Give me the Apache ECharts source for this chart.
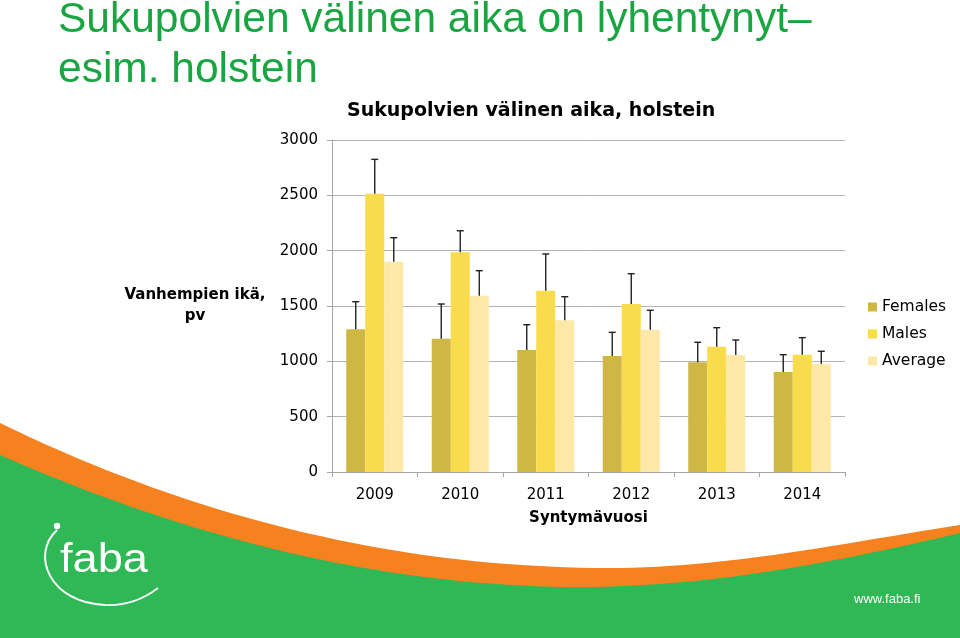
<!DOCTYPE html>
<html>
<head>
<meta charset="utf-8">
<script src="https://cdn.jsdelivr.net/npm/echarts@6/dist/echarts.min.js"></script>
<style>
  html, body { margin: 0; padding: 0; background: #ffffff; }
  #chart { width: 960px; height: 638px; }
</style>
</head>
<body>
<div id="chart"></div>
<script>
// ---- data ----
var years = ['2009', '2010', '2011', '2012', '2013', '2014'];
var seriesNames = ['Females', 'Males', 'Average'];
var females = [1290, 1205, 1102, 1048, 991, 904];
var femalesUpper = [1539, 1518, 1331, 1262, 1172, 1060];
var males = [2515, 1985, 1638, 1518, 1132, 1060];
var malesUpper = [2825, 2180, 1970, 1792, 1304, 1214];
var average = [1900, 1593, 1371, 1286, 1057, 976];
var averageUpper = [2117, 1819, 1584, 1461, 1193, 1091];
var yTicks = [0, 500, 1000, 1500, 2000, 2500, 3000];

var colors = ['#cfb746', '#f9dc4b', '#fde8a7'];
var values = [females, males, average];
var uppers = [femalesUpper, malesUpper, averageUpper];
var CAT_GAP = 0.333;
var FONT = '"DejaVu Sans", Verdana, sans-serif';

var chart = echarts.init(document.getElementById('chart'), null, { renderer: 'canvas' });

function errorRenderer(seriesIdx) {
  return function (params, api) {
    var cat = api.value(0);
    var base = api.coord([cat, api.value(1)]);
    var top = api.coord([cat, api.value(2)]);
    var band = api.size([1, 0])[0];
    var bw = band * (1 - CAT_GAP) / 3;
    var cx = base[0] - bw * 1.5 + bw * (seriesIdx + 0.5);
    var half = 3.5;
    return {
      type: 'group',
      children: [
        { type: 'line', shape: { x1: cx, y1: base[1], x2: cx, y2: top[1] },
          style: { stroke: '#222', lineWidth: 1.4 } },
        { type: 'line', shape: { x1: cx - half, y1: top[1], x2: cx + half, y2: top[1] },
          style: { stroke: '#222', lineWidth: 1.4 } }
      ]
    };
  };
}

var series = [];
seriesNames.forEach(function (name, i) {
  series.push({
    name: name,
    type: 'bar',
    data: values[i],
    barGap: '0%',
    barCategoryGap: (CAT_GAP * 100) + '%',
    itemStyle: { color: colors[i] },
    z: 2
  });
});
seriesNames.forEach(function (name, i) {
  series.push({
    name: name + ' error',
    type: 'custom',
    renderItem: errorRenderer(i),
    data: years.map(function (y, k) { return [k, values[i][k], uppers[i][k]]; }),
    encode: { x: 0, y: [1, 2] },
    z: 3,
    silent: true
  });
});

// decorative background swooshes (sampled cubic curves)
function cubicPts(p0, p1, p2, p3, n) {
  var pts = [];
  for (var k = 0; k <= n; k++) {
    var t = k / n, u = 1 - t;
    pts.push([
      u * u * u * p0[0] + 3 * u * u * t * p1[0] + 3 * u * t * t * p2[0] + t * t * t * p3[0],
      u * u * u * p0[1] + 3 * u * u * t * p1[1] + 3 * u * t * t * p2[1] + t * t * t * p3[1]
    ]);
  }
  return pts;
}
var orangePts = cubicPts([0, 423], [203, 522], [407, 568], [610, 568], 40)
  .concat(cubicPts([610, 568], [727, 568], [843, 543], [960, 525], 30).slice(1))
  .concat([[960, 638], [0, 638]]);
var greenPts = cubicPts([0, 455], [193, 540], [387, 587], [580, 587], 40)
  .concat(cubicPts([580, 587], [707, 587], [833, 563], [960, 533], 30).slice(1))
  .concat([[960, 638], [0, 638]]);

var option = {
  backgroundColor: '#ffffff',
  animation: false,
  title: [
    {
      text: 'Sukupolvien välinen aika on lyhentynyt–\nesim. holstein',
      left: 58, top: -5, padding: 0,
      textStyle: { color: '#19a541', fontSize: 42.5, fontWeight: 'normal',
        fontFamily: '"Liberation Sans", Arial, sans-serif', lineHeight: 50 }
    },
    {
      text: 'Sukupolvien välinen aika, holstein',
      left: 347, top: 102, padding: 0,
      textStyle: { color: '#000', fontSize: 19, fontWeight: 'bold', fontFamily: FONT }
    }
  ],
  legend: {
    orient: 'vertical',
    left: 868, top: 299, padding: 0,
    itemWidth: 9, itemHeight: 9, itemGap: 11,
    icon: 'rect',
    data: seriesNames,
    textStyle: { color: '#000', fontSize: 15.5, fontFamily: FONT }
  },
  grid: { left: 332, right: 115, top: 140, bottom: 166, containLabel: false },
  xAxis: {
    type: 'category',
    data: years,
    name: 'Syntymävuosi',
    nameLocation: 'middle',
    nameGap: 46,
    nameTextStyle: { color: '#000', fontSize: 15, fontWeight: 'bold', fontFamily: FONT, verticalAlign: 'middle' },
    axisLine: { lineStyle: { color: '#a6a6a6', width: 1 } },
    axisTick: { show: true, length: 5, lineStyle: { color: '#a6a6a6' } },
    axisLabel: { color: '#000', fontSize: 15, fontFamily: FONT, margin: 16 }
  },
  yAxis: {
    type: 'value',
    min: yTicks[0], max: yTicks[yTicks.length - 1], interval: 500,
    name: 'Vanhempien ikä,\npv',
    nameLocation: 'middle',
    nameRotate: 0,
    nameGap: 137,
    nameTextStyle: { color: '#000', fontSize: 15, fontWeight: 'bold', fontFamily: FONT,
      align: 'center', verticalAlign: 'middle', lineHeight: 21 },
    axisLine: { show: true, lineStyle: { color: '#a6a6a6', width: 1 } },
    axisTick: { show: true, length: 5, lineStyle: { color: '#a6a6a6' } },
    axisLabel: { color: '#000', fontSize: 15, fontFamily: FONT, margin: 14,
      formatter: function (v) { return String(v); } },
    splitLine: { lineStyle: { color: '#b4b4b4', width: 1 } }
  },
  graphic: [
    { type: 'polygon', z: -10, silent: true, shape: { points: orangePts }, style: { fill: '#f5821f' } },
    { type: 'polygon', z: -9, silent: true, shape: { points: greenPts }, style: { fill: '#2fb855' } },
    { type: 'bezierCurve', z: -8, silent: true,
      shape: { x1: 57, y1: 530, cpx1: 30, cpy1: 555, cpx2: 50, cpy2: 603, x2: 105, y2: 605 },
      style: { fill: null, stroke: '#ffffff', lineWidth: 2 } },
    { type: 'bezierCurve', z: -8, silent: true,
      shape: { x1: 105, y1: 605, cpx1: 128, cpy1: 606, cpx2: 145, cpy2: 598, x2: 158, y2: 588 },
      style: { fill: null, stroke: '#ffffff', lineWidth: 1.6 } },
    { type: 'circle', z: -8, silent: true, shape: { cx: 57, cy: 526, r: 3.2 }, style: { fill: '#ffffff' } },
    { type: 'text', z: -8, silent: true, x: 60, y: 561, scaleX: 1.13,
      style: { text: 'faba', fill: '#ffffff', font: '40px "Liberation Sans", Arial, sans-serif',
        textAlign: 'left', textVerticalAlign: 'middle' } },
    { type: 'text', z: -8, silent: true, x: 854, y: 599,
      style: { text: 'www.faba.fi', fill: '#ffffff', font: '13px "Liberation Sans", Arial, sans-serif',
        textAlign: 'left', textVerticalAlign: 'middle' } }
  ],
  series: series
};

chart.setOption(option);
</script>
</body>
</html>
